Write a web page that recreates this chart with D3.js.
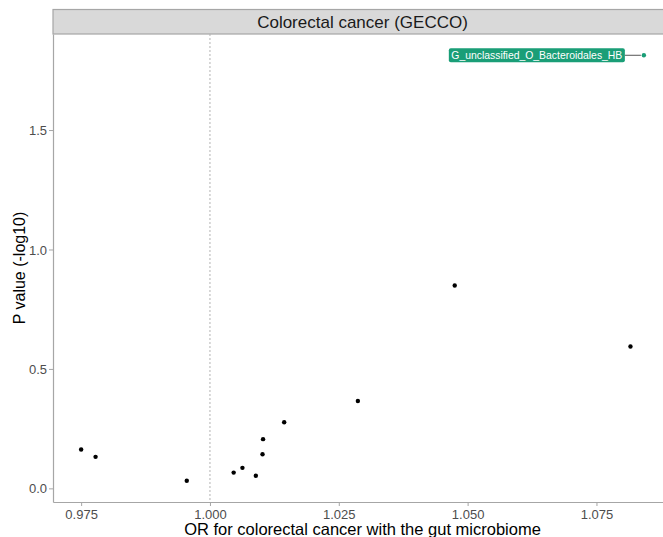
<!DOCTYPE html>
<html>
<head>
<meta charset="utf-8">
<script src="https://cdn.jsdelivr.net/npm/d3@7"></script>
<style>
  body { margin: 0; background: #fff; }
  svg { display: block; font-family: "Liberation Sans", Arial, sans-serif; }
</style>
</head>
<body>
<div id="chart"></div>
<script>
//          Chart data
var orValues = [0.9750, 0.9778, 0.9955, 1.0046, 1.0063, 1.0089, 1.0102, 1.0103, 1.0144, 1.0287, 1.0475, 1.0816, 1.0842];
var pValues  = [0.163, 0.132, 0.032, 0.066, 0.086, 0.053, 0.143, 0.206, 0.277, 0.366, 0.849, 0.594, 1.813];
var taxa     = ["", "", "", "", "", "", "", "", "", "", "", "", "G_unclassified_O_Bacteroidales_HB"];
var xTicks   = [0.975, 1.000, 1.025, 1.050, 1.075];
var yTicks   = [0.0, 0.5, 1.0, 1.5];
var panelTitle = "Colorectal cancer (GECCO)";

//          Chart settings
var chartW = 663, chartH = 537;
var panelLeft = 53, panelRight = 672, panelTop = 34, panelBottom = 502, stripTop = 9.5;

function expand(ext) {
    var pad = (ext[1] - ext[0]) * 0.05;
    return [ext[0] - pad, ext[1] + pad];
}

var x = d3.scaleLinear().domain(expand(d3.extent(orValues))).range([panelLeft, panelRight]);
var y = d3.scaleLinear().domain(expand(d3.extent(pValues))).range([panelBottom, panelTop]);

var svg = d3.select("#chart").append("svg")
    .attr("width", chartW)
    .attr("height", chartH);

//          Strip
svg.append("rect")
    .attr("x", panelLeft).attr("y", stripTop)
    .attr("width", panelRight - panelLeft).attr("height", panelTop - stripTop)
    .style("fill", "#d9d9d9")
    .style("stroke", "#a6a6a6")
    .style("stroke-width", 1.2);

svg.append("text")
    .text(panelTitle)
    .attr("x", (panelLeft + panelRight) / 2)
    .attr("y", 28)
    .attr("text-anchor", "middle")
    .style("font-size", "17px")
    .style("fill", "#1a1a1a");

//          Reference line at OR = 1
svg.append("line")
    .attr("x1", x(1)).attr("x2", x(1))
    .attr("y1", panelTop).attr("y2", panelBottom)
    .style("stroke", "#b3b3b3")
    .style("stroke-dasharray", "2,2")
    .style("stroke-width", 1);

//          Axes
var xAxis = svg.append("g")
    .attr("transform", "translate(0," + panelBottom + ")")
    .call(d3.axisBottom(x).tickValues(xTicks).tickFormat(d3.format(".3f")).tickSize(4).tickSizeOuter(0));

var yAxis = svg.append("g")
    .attr("transform", "translate(" + panelLeft + ",0)")
    .call(d3.axisLeft(y).tickValues(yTicks).tickFormat(d3.format(".1f")).tickSize(4).tickSizeOuter(0));

[xAxis, yAxis].forEach(function (g) {
    g.attr("font-size", null).attr("font-family", null);
    g.select(".domain").style("stroke", "#a6a6a6").style("stroke-width", 1.2);
    g.selectAll(".tick line").style("stroke", "#a6a6a6");
    g.selectAll(".tick text")
        .style("font-size", "13px")
        .style("fill", "#4d4d4d");
});
xAxis.selectAll(".tick text").attr("y", 7).attr("dy", "0.76em");
yAxis.selectAll(".tick text").attr("x", -6).attr("dy", "0.35em");

//          Axis titles
svg.append("text")
    .text("OR for colorectal cancer with the gut microbiome")
    .attr("x", (panelLeft + panelRight) / 2)
    .attr("y", 535)
    .attr("text-anchor", "middle")
    .style("font-size", "16.5px")
    .style("fill", "#000");

svg.append("text")
    .text("P value (-log10)")
    .attr("transform", "translate(25," + ((panelTop + panelBottom) / 2) + ") rotate(-90)")
    .attr("text-anchor", "middle")
    .style("font-size", "16px")
    .style("fill", "#000");

//          Points
svg.selectAll("circle.pt").data(orValues).enter().append("circle")
    .attr("class", "pt")
    .attr("cx", function (d) { return x(d); })
    .attr("cy", function (d, i) { return y(pValues[i]); })
    .attr("r", 2.2)
    .style("fill", function (d, i) { return taxa[i] ? "#1a9e77" : "#000"; });

//          Labels
var labelled = d3.range(orValues.length).filter(function (i) { return taxa[i]; });
labelled.forEach(function (i) {
    var px = x(orValues[i]), py = y(pValues[i]);
    var g = svg.append("g");
    var t = g.append("text")
        .text(taxa[i])
        .attr("x", 0).attr("y", 0)
        .style("font-size", "10.4px")
        .style("fill", "#fff");
    var bb = t.node().getBBox();
    var boxW = bb.width + 5, boxH = 14;
    var bx = px - 19 - boxW, by = py - boxH / 2;
    g.insert("rect", "text")
        .attr("x", bx).attr("y", by)
        .attr("width", boxW).attr("height", boxH)
        .attr("rx", 2)
        .style("fill", "#1a9e77");
    t.attr("x", bx + 2.5).attr("y", by + 10.8);
    svg.append("line")
        .attr("x1", bx + boxW).attr("x2", px - 3)
        .attr("y1", py).attr("y2", py)
        .style("stroke", "#555")
        .style("stroke-width", 1);
});
</script>
</body>
</html>
